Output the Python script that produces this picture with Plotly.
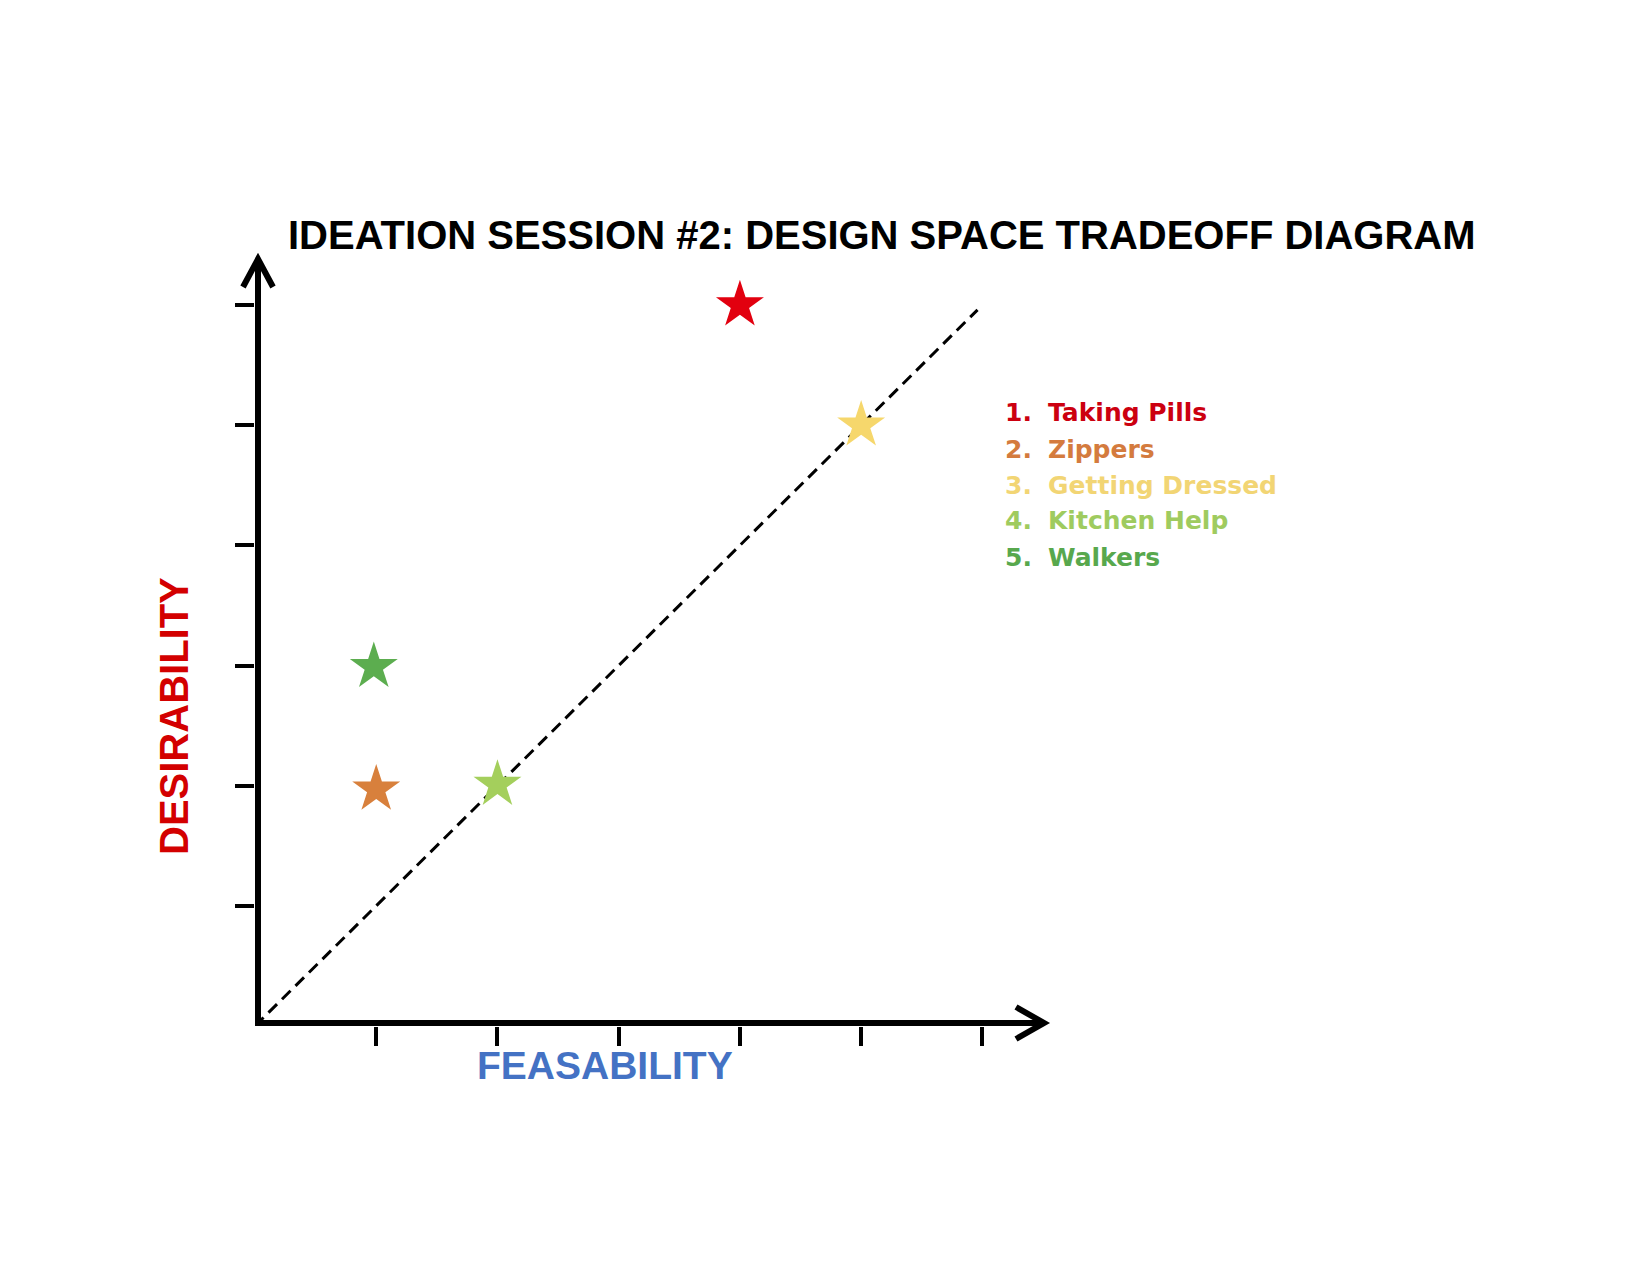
import plotly.graph_objects as go

# ---- data ----
ideas = ["Taking Pills", "Zippers", "Getting Dressed", "Kitchen Help", "Walkers"]
numbers = ["1.", "2.", "3.", "4.", "5."]
feasibility = [4.0, 1.0, 5.0, 2.0, 0.98]
desirability = [6.0, 1.97, 5.0, 2.01, 2.99]
star_colors = ["#E2000F", "#D8803C", "#F6D76C", "#A4CF5C", "#5CAD4F"]
text_colors = ["#CC0010", "#D47B3E", "#F2D574", "#9FCB5F", "#58A84D"]
tick_values = [1, 2, 3, 4, 5, 6]
parity_line = [0, 5.96]
x_range = [0, 6.5]
y_range = [0, 6.4]

# ---- layout geometry (pixels) ----
W, H = 1650, 1275
L, R, T, B = 255, 607, 257, 249
PW = W - L - R
PH = H - T - B


def px(x):
    return (x - L) / PW


def py(y):
    return (H - B - y) / PH


fig = go.Figure()

# dashed diagonal
fig.add_trace(go.Scatter(
    x=parity_line, y=parity_line, mode="lines",
    line=dict(color="black", width=3, dash="12px,7px"),
    hoverinfo="skip", showlegend=False))

# stars
fig.add_trace(go.Scatter(
    x=feasibility, y=desirability, mode="markers", text=ideas,
    marker=dict(symbol="star", size=36, color=star_colors, line=dict(width=0)),
    showlegend=False, cliponaxis=False))

# axis lines with arrowheads (decoration, paper coordinates)
fig.add_shape(type="path", xref="paper", yref="paper", layer="above",
              path=(f"M {px(258)} {py(1026)} L {px(258)} {py(262)} "
                    f"M {px(243)} {py(287)} L {px(258)} {py(259)} L {px(273)} {py(287)}"),
              line=dict(color="black", width=6))
fig.add_shape(type="path", xref="paper", yref="paper", layer="above",
              path=(f"M {px(255)} {py(1023)} L {px(1041)} {py(1023)} "
                    f"M {px(1016)} {py(1007)} L {px(1044)} {py(1023)} L {px(1016)} {py(1039)}"),
              line=dict(color="black", width=6))

annotations = []
annotations.append(dict(
    text="IDEATION SESSION #2: DESIGN SPACE TRADEOFF DIAGRAM",
    x=px(882), y=py(235), xref="paper", yref="paper", showarrow=False,
    xanchor="center", yanchor="middle",
    font=dict(family="Liberation Sans", size=40, color="black", weight="bold")))
annotations.append(dict(
    text="DESIRABILITY", textangle=-90,
    x=px(174), y=py(716), xref="paper", yref="paper", showarrow=False,
    xanchor="center", yanchor="middle",
    font=dict(family="Liberation Sans", size=40, color="#D30000", weight="bold")))
annotations.append(dict(
    text="FEASABILITY",
    x=px(605), y=py(1065), xref="paper", yref="paper", showarrow=False,
    xanchor="center", yanchor="middle",
    font=dict(family="Liberation Sans", size=39, color="#4472C4", weight="bold")))

legend_rows = [412, 449, 485, 520, 557]
for num, name, col, yy in zip(numbers, ideas, text_colors, legend_rows):
    annotations.append(dict(
        text=num, x=px(1003), y=py(yy), xref="paper", yref="paper",
        showarrow=False, xanchor="left", yanchor="middle",
        font=dict(family="DejaVu Sans", size=25, color=col, weight="bold")))
    annotations.append(dict(
        text=name, x=px(1046), y=py(yy), xref="paper", yref="paper",
        showarrow=False, xanchor="left", yanchor="middle",
        font=dict(family="DejaVu Sans", size=25, color=col, weight="bold")))

fig.update_layout(
    width=W, height=H,
    margin=dict(l=L, r=R, t=T, b=B, pad=0),
    paper_bgcolor="white", plot_bgcolor="white",
    annotations=annotations,
    xaxis=dict(range=x_range, tickvals=tick_values, showticklabels=False,
               ticks="outside", ticklen=19, tickwidth=4, tickcolor="black",
               showgrid=False, zeroline=False, showline=False, fixedrange=True),
    yaxis=dict(range=y_range, tickvals=tick_values, showticklabels=False,
               ticks="outside", ticklen=19, tickwidth=4, tickcolor="black",
               showgrid=False, zeroline=False, showline=False, fixedrange=True),
)

fig.write_html("out.html", post_script="document.body.style.margin='0';",
               config={"displayModeBar": False})
